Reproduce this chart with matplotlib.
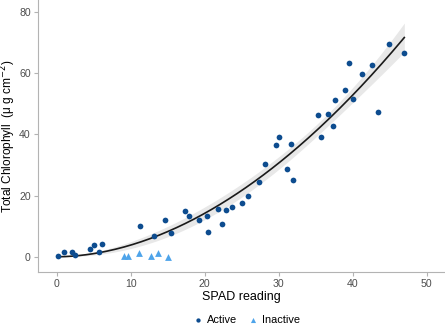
import numpy as np
import matplotlib.pyplot as plt

plt.rcParams['font.family'] = ['Liberation Sans', 'DejaVu Sans']

# active leaves
active_spad = [0.2, 1.0, 2.1, 2.5, 4.5, 5.0, 5.8, 6.2, 11.3, 13.2, 14.6, 15.4,
               17.3, 17.9, 19.3, 20.3, 20.5, 21.8, 22.4, 22.9, 23.7, 25.0, 25.9,
               27.4, 28.2, 29.6, 30.1, 31.1, 31.7, 31.9, 35.7, 35.4, 36.7, 37.4,
               37.7, 39.0, 39.5, 40.1, 41.3, 42.7, 43.5, 44.9, 47.0]
active_chl = [0.3, 1.4, 1.4, 0.6, 2.4, 4.0, 1.4, 4.3, 10.1, 6.9, 12.1, 7.9,
              15.0, 13.3, 12.0, 13.3, 8.1, 15.5, 10.6, 15.2, 16.4, 17.6, 19.8,
              24.5, 30.2, 36.7, 39.2, 28.7, 36.8, 25.1, 39.2, 46.3, 46.7, 42.9,
              51.2, 54.5, 63.4, 51.7, 59.8, 62.7, 47.4, 69.7, 66.8]

# inactive leaves
inactive_spad = [9.1, 9.6, 11.1, 12.7, 13.65, 15.1]
inactive_chl = [0.3, 0.3, 1.1, 0.4, 1.1, 0.0]

dark = '#0d4c8f'
light = '#4ea4ea'

x = np.array(active_spad)
y = np.array(active_chl)

# power model y = a * x^b by nonlinear least squares (Gauss-Newton)
lb, la = np.polyfit(np.log(x), np.log(y), 1)
a, b = np.exp(la), lb
for i in range(200):
    f = a * x**b
    J = np.column_stack([x**b, a * x**b * np.log(x)])
    step = np.linalg.lstsq(J, y - f, rcond=None)[0]
    a, b = a + step[0], b + step[1]
    if np.abs(step).max() < 1e-12:
        break

resid = y - a * x**b
s2 = resid @ resid / (len(x) - 2)
J = np.column_stack([x**b, a * x**b * np.log(x)])
cov = s2 * np.linalg.inv(J.T @ J)

xs = np.linspace(x.min(), x.max(), 200)
ys = a * xs**b
Js = np.column_stack([xs**b, a * xs**b * np.log(xs)])
se = np.sqrt(np.einsum('ij,jk,ik->i', Js, cov, Js))
t = 2.02
lo, hi = ys - t * se, ys + t * se

fig = plt.figure(figsize=(4.45, 3.25), dpi=100)
ax = fig.add_axes([0.0847, 0.162, 0.9153, 0.838])

ax.fill_between(xs, lo, hi, color='#e8e8e8', lw=0, zorder=1)
ax.plot(xs, ys, color='#1a1a1a', lw=1.2, zorder=2)
ax.scatter(active_spad, active_chl, s=17, color=dark, marker='o', lw=0,
           label='Active', zorder=3)
ax.scatter(inactive_spad, inactive_chl, s=24, color=light, marker='^', lw=0,
           label='Inactive', zorder=3)

ax.set_xlim(-2.55, 52.5)
ax.set_ylim(-5.1, 84)
ax.set_xticks([0, 10, 20, 30, 40, 50])
ax.set_yticks([0, 20, 40, 60, 80])

for s in ['top', 'right']:
    ax.spines[s].set_visible(False)
for s in ['left', 'bottom']:
    ax.spines[s].set_color('#b3b3b3')
    ax.spines[s].set_linewidth(0.8)
ax.tick_params(colors='#4d4d4d', labelsize=7.6, length=3, width=0.8, pad=2)
ax.tick_params(axis='both', color='#b3b3b3')

ax.set_xlabel('SPAD reading', fontsize=9, labelpad=1.5)
fig.text(8.5 / 445, 0.58, 'Total Chlorophyll  (\u03bc g cm$^{-2}$)', fontsize=8.6,
         rotation=90, ha='center', va='center')

leg = fig.legend(loc='center', bbox_to_anchor=(0.553, 0.016), ncol=2, frameon=False,
                 fontsize=7.9, handletextpad=0.3, columnspacing=1.0,
                 markerscale=0.75, handlelength=1.0)

fig.savefig('out.png', dpi=100)
